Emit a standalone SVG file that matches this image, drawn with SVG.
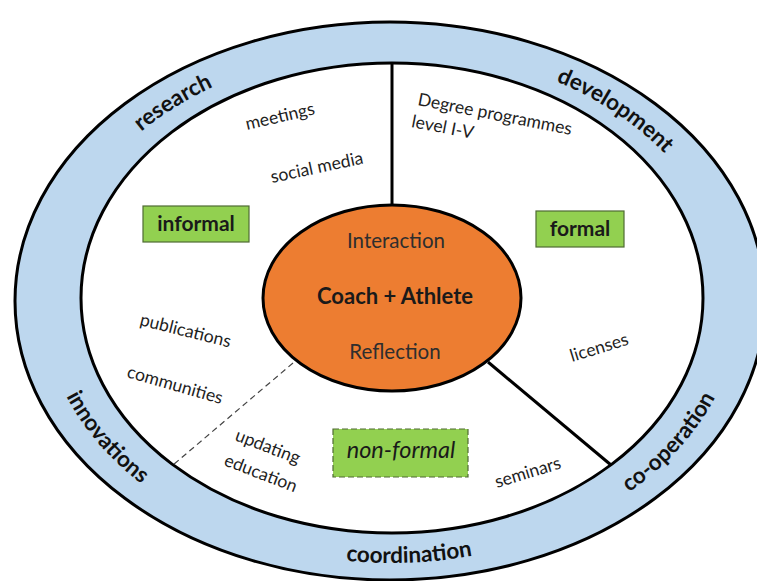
<svg xmlns="http://www.w3.org/2000/svg" xmlns:xlink="http://www.w3.org/1999/xlink" width="757" height="581" viewBox="0 0 757 581">
<defs>
<style>
.ln{stroke:#000;stroke-width:3;fill:none}
.band{font-family:Lato,"Noto Sans",sans-serif;font-weight:bold;font-size:22.5px;fill:#111}
.t{font-family:Lato,"Noto Sans",sans-serif;font-size:17.6px;fill:#1f1f1f}
.box{fill:#92D050;stroke:#4F6B33;stroke-width:1.2}
.bt{font-family:Lato,"Noto Sans",sans-serif;font-weight:bold;font-size:21px;fill:#1a1a1a;text-anchor:middle}
.ct{font-family:Lato,"Noto Sans",sans-serif;font-size:20.5px;fill:#2e2e2e;text-anchor:middle}
</style>
<path id="topArc" d="M 54,300 A 337 251 0 0 1 728,300"/>
<path id="botArc" d="M 42,300 A 349 263 0 0 0 740,300"/>
</defs>
<rect width="757" height="581" fill="#fff"/>
<g id="outer-ring">
<ellipse cx="390" cy="301" rx="375" ry="279" class="ln" style="fill:#BDD7EE"/>
<text class="band"><textPath xlink:href="#topArc" href="#topArc" startOffset="25.7%" text-anchor="middle">research</textPath></text>
<text class="band"><textPath xlink:href="#topArc" href="#topArc" startOffset="75.3%" text-anchor="middle">development</textPath></text>
<text class="band"><textPath xlink:href="#botArc" href="#botArc" startOffset="16.4%" text-anchor="middle">innovations</textPath></text>
<text class="band"><textPath xlink:href="#botArc" href="#botArc" startOffset="51.9%" text-anchor="middle">coordination</textPath></text>
<text class="band"><textPath xlink:href="#botArc" href="#botArc" startOffset="82.8%" text-anchor="middle">co-operation</textPath></text>
</g>
<g id="inner-area">
<ellipse cx="392" cy="298" rx="311" ry="235" class="ln" style="fill:#fff"/>
</g>
<g id="connectors">
<line x1="392" y1="63" x2="392" y2="206" class="ln"/>
<line x1="488" y1="362" x2="611" y2="465" class="ln"/>
<line x1="293" y1="363" x2="173" y2="465" stroke="#444" stroke-width="1.2" stroke-dasharray="6 4"/>
</g>
<g id="center">
<ellipse cx="392" cy="298" rx="129" ry="93" class="ln" style="fill:#ED7D31"/>
<text x="396" y="248" class="ct">Interaction</text>
<text x="395" y="304" class="ct" style="font-weight:bold;font-size:22px;fill:#1a1a1a">Coach + Athlete</text>
<text x="395" y="359" class="ct">Reflection</text>
</g>
<g id="informal">
<rect x="143" y="206" width="106" height="36" class="box"/>
<text x="196" y="231" class="bt">informal</text>
</g>
<g id="formal">
<rect x="536" y="211" width="88" height="36" class="box"/>
<text x="580" y="236" class="bt">formal</text>
</g>
<g id="non-formal">
<rect x="333" y="429" width="135" height="48" class="box" style="stroke-dasharray:6 3"/>
<text x="401" y="458" class="bt" style="font-weight:normal;font-style:italic;font-size:23.5px">non-formal</text>
</g>
<g id="labels">
<text class="t" transform="translate(247,130) rotate(-13)">meetings</text>
<text class="t" transform="translate(272,183) rotate(-12)">social media</text>
<text class="t" transform="translate(417,105) rotate(11)"><tspan x="0" y="0">Degree programmes</tspan><tspan x="-2" y="22.7">level I-V</tspan></text>
<text class="t" transform="translate(139,325) rotate(14)">publications</text>
<text class="t" transform="translate(126,377) rotate(16)">communities</text>
<text class="t" transform="translate(234,440) rotate(21)">updating</text>
<text class="t" transform="translate(223,465) rotate(21)">education</text>
<text class="t" transform="translate(572,362) rotate(-17)">licenses</text>
<text class="t" transform="translate(497,488) rotate(-17)">seminars</text>
</g>
</svg>
